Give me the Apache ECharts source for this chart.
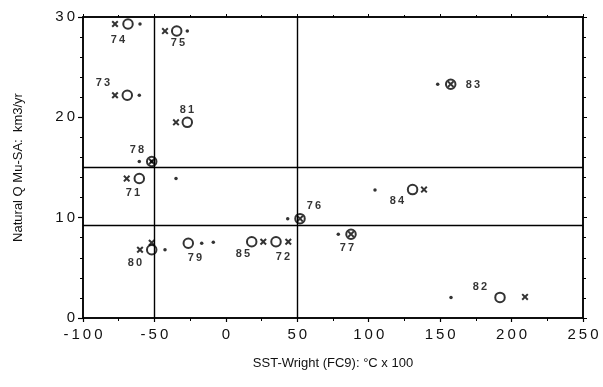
<!DOCTYPE html>
<html>
<head>
<meta charset="utf-8">
<script src="https://cdn.jsdelivr.net/npm/echarts@6/dist/echarts.min.js"></script>
<style>
  html, body { margin: 0; padding: 0; background: #fff; }
  #chart { width: 603px; height: 387px; }
</style>
</head>
<body>
<div id="chart"></div>
<script>
// estimates: [SST x100, flow km3/yr]
const crosses = [
  [-77.6, 29.3], [-42.6, 28.6], [-77.6, 22.2], [-34.9, 19.5], [-69.4, 13.9],
  [-60.1, 6.8], [-51.9, 7.5], [26.2, 7.6], [43.7, 7.6], [138.7, 12.8],
  [209.4, 2.1], [-51.9, 15.6], [51.9, 9.9], [87.6, 8.35], [157.4, 23.3]
];
const circles = [
  [-68.5, 29.3], [-34.4, 28.6], [-69.0, 22.2], [-27.0, 19.5], [-51.9, 15.6],
  [-60.6, 13.9], [-51.9, 6.8], [-26.3, 7.45], [18.1, 7.6], [35.1, 7.6],
  [51.9, 9.9], [87.6, 8.35], [130.7, 12.8], [157.4, 23.3], [191.9, 2.05]
];
const dots = [
  [-60.1, 29.3], [-27.0, 28.6], [-60.6, 22.2], [-60.6, 15.6], [-34.9, 13.9],
  [-42.6, 6.8], [-16.9, 7.45], [-8.8, 7.55], [43.3, 9.9], [78.7, 8.35],
  [104.4, 12.75], [148.3, 23.3], [157.6, 2.05], [-51.9, 15.6]
];
const yearLabels = [
  [-75.5, 27.7, "74"], [-33.5, 27.4, "75"], [-86, 23.4, "73"], [-27.2, 20.7, "81"],
  [-62.2, 16.75, "78"], [-65, 12.5, "71"], [-63.6, 5.5, "80"], [-21.6, 6.0, "79"],
  [12, 6.4, "85"], [40, 6.1, "72"], [61.7, 11.2, "76"], [84.8, 7.0, "77"],
  [119.8, 11.7, "84"], [173, 23.2, "83"], [177.9, 3.1, "82"]
];
const vLines = [-50, 50];
const hLines = [15, 9.25];

const crossPath = "path://M0,2L2,0L5,3L8,0L10,2L7,5L10,8L8,10L5,7L2,10L0,8L3,5Z";
const font = "'Liberation Sans', Arial, sans-serif";
const spaced = s => String(s).split("").join("\u2009");

const chart = echarts.init(document.getElementById("chart"));
chart.setOption({
  animation: false,
  grid: { left: 83, right: 20, top: 17, bottom: 69, show: true, borderColor: "#000", borderWidth: 1.5 },
  xAxis: [
    {
      type: "value", min: -100, max: 250, interval: 50,
      name: "SST-Wright (FC9): °C x 100", nameLocation: "middle", nameGap: 39,
      nameTextStyle: { fontFamily: font, fontSize: 13, color: "#111" },
      axisLine: { onZero: false, lineStyle: { color: "#000", width: 1.5 } },
      axisTick: { inside: false, length: 4, lineStyle: { color: "#000", width: 1.2 } },
      minorTick: { show: true, splitNumber: 2, length: 3, lineStyle: { color: "#000" } },
      axisLabel: { fontFamily: font, fontSize: 15, color: "#111", margin: 9, formatter: v => spaced(v) },
      splitLine: { show: false }
    },
    {
      type: "value", min: -100, max: 250, interval: 50, position: "top",
      axisLine: { onZero: false, lineStyle: { color: "#000", width: 1.5 } },
      axisTick: { inside: false, length: 3, lineStyle: { color: "#000" } },
      minorTick: { show: true, splitNumber: 2, length: 2, lineStyle: { color: "#000" } },
      axisLabel: { show: false }, splitLine: { show: false }
    }
  ],
  yAxis: [
    {
      type: "value", min: 0, max: 30, interval: 10,
      name: "Natural Q Mu-SA:  km3/yr", nameLocation: "middle", nameGap: 58,
      nameTextStyle: { fontFamily: font, fontSize: 13, color: "#111" },
      axisLine: { onZero: false, lineStyle: { color: "#000", width: 1.5 } },
      axisTick: { inside: false, length: 5, lineStyle: { color: "#000", width: 1.2 } },
      minorTick: { show: true, splitNumber: 5, length: 3, lineStyle: { color: "#000" } },
      axisLabel: { fontFamily: font, fontSize: 15, color: "#111", margin: 8, formatter: v => spaced(v) },
      splitLine: { show: false }
    },
    {
      type: "value", min: 0, max: 30, interval: 10, position: "right",
      axisLine: { onZero: false, lineStyle: { color: "#000", width: 1.5 } },
      axisTick: { inside: false, length: 4, lineStyle: { color: "#000" } },
      minorTick: { show: true, splitNumber: 5, length: 3, lineStyle: { color: "#000" } },
      axisLabel: { show: false }, splitLine: { show: false }
    }
  ],
  series: [
    {
      type: "scatter", data: circles, symbol: "circle", symbolSize: 9.5,
      itemStyle: { color: "rgba(0,0,0,0)", borderColor: "#000", borderWidth: 2 },
      markLine: {
        silent: true, symbol: ["none", "none"], label: { show: false },
        lineStyle: { color: "#000", width: 1.4, type: "solid" },
        data: vLines.map(v => ({ xAxis: v })).concat(hLines.map(v => ({ yAxis: v })))
      },
      z: 3
    },
    {
      type: "scatter", data: crosses, symbol: crossPath, symbolSize: 7,
      itemStyle: { color: "#000" }, z: 4
    },
    {
      type: "scatter", data: dots, symbol: "circle", symbolSize: 3.5,
      itemStyle: { color: "#000" }, z: 5
    },
    {
      type: "scatter", data: yearLabels, symbolSize: 0, silent: true,
      label: {
        show: true, position: "inside", fontFamily: font, fontSize: 11, fontWeight: "bold", color: "#000",
        formatter: p => spaced(p.value[2])
      },
      z: 6
    }
  ]
});
</script>
</body>
</html>
